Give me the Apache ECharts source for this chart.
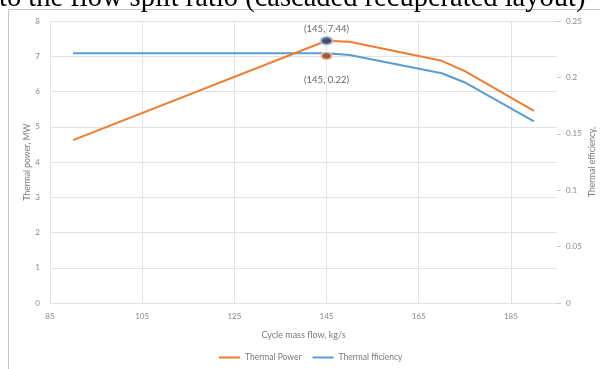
<!DOCTYPE html>
<html>
<head>
<meta charset="utf-8">
<script src="https://cdn.jsdelivr.net/npm/echarts@6/dist/echarts.min.js"></script>
<style>
html,body{margin:0;padding:0;background:#fff;}
#c{width:600px;height:369px;}
</style>
</head>
<body>
<div id="c"></div>
<script>
// Data
const massFlow = [90, 145, 150, 170, 175, 190];
const thermalPower = [4.62, 7.44, 7.41, 6.87, 6.58, 5.45];
const thermalEfficiency = [0.2215, 0.2215, 0.2198, 0.2037, 0.1955, 0.161];
const xTicks = [85, 105, 125, 145, 165, 185];
const highlightPower = [[145, 7.44]];
const highlightEff = [[145, 0.219]];
const powerLabel = '(145, 7.44)';
const effLabel = '(145, 0.22)';
const titleText = 'to the flow split ratio (cascaded recuperated layout)';

const chart = echarts.init(document.getElementById('c'), null, {renderer: 'canvas'});
const labelFont = 'Lato, "Open Sans", sans-serif';
const grey = '#8a8a8a';
const gridCol = '#e3e3e3';

chart.setOption({
  animation: false,
  backgroundColor: '#fff',
  graphic: [
    {type: 'rect', shape: {x: 8.5, y: 9.5, width: 620, height: 400},
     style: {fill: 'none', stroke: '#c4c4c4', lineWidth: 1}, z: -1},
    {type: 'text', left: -1, top: -16,
     style: {text: titleText, font: '28.5px "Liberation Serif", "DejaVu Serif", serif', fill: '#000'}}
  ],
  grid: {left: 50, right: 43, top: 21, bottom: 66, outerBoundsMode: 'none', containLabel: false},
  legend: {
    bottom: 2, left: 214,
    itemWidth: 21, itemHeight: 2, itemGap: 11,
    icon: 'rect',
    textStyle: {fontFamily: labelFont, fontSize: 8.5, color: '#7a7a7a'},
    data: ['Thermal Power', 'Thermal fficiency']
  },
  xAxis: {
    type: 'value', min: 85, max: 195,
    name: 'Cycle mass flow, kg/s', nameLocation: 'middle', nameGap: 28, nameMoveOverlap: false,
    nameTextStyle: {fontFamily: labelFont, fontSize: 9, color: '#7a7a7a'},
    axisLine: {show: true, lineStyle: {color: gridCol}},
    axisTick: {show: false, customValues: xTicks},
    axisLabel: {customValues: xTicks, fontFamily: labelFont, fontSize: 8, color: grey, margin: 9},
    splitLine: {show: true, lineStyle: {color: gridCol}}
  },
  yAxis: [
    {
      type: 'value', min: 0, max: 8, interval: 1,
      name: 'Thermal power, MW', nameLocation: 'middle', nameGap: 18, nameMoveOverlap: false,
      nameTextStyle: {fontFamily: labelFont, fontSize: 8.5, color: '#7a7a7a'},
      axisLine: {show: true, lineStyle: {color: gridCol}},
      axisTick: {show: false},
      axisLabel: {fontFamily: labelFont, fontSize: 8, color: grey, margin: 10},
      splitLine: {show: true, lineStyle: {color: gridCol}}
    },
    {
      type: 'value', min: 0, max: 0.25, interval: 0.05,
      name: 'Thermal efficiency,', nameLocation: 'middle', nameGap: 31, nameMoveOverlap: false,
      nameTextStyle: {fontFamily: labelFont, fontSize: 8.5, color: '#7a7a7a'},
      axisLine: {show: false},
      axisTick: {show: true, length: 4, inside: false, lineStyle: {color: '#c8c8c8'}},
      axisLabel: {fontFamily: labelFont, fontSize: 8, color: grey, margin: 9,
        formatter: v => String(+v.toFixed(2))},
      splitLine: {show: false}
    }
  ],
  series: [
    {
      name: 'Thermal Power', type: 'line', yAxisIndex: 0,
      data: massFlow.map((x, i) => [x, thermalPower[i]]),
      showSymbol: false, symbol: 'none',
      lineStyle: {color: '#ed7d31', width: 2}, itemStyle: {color: '#ed7d31'}, z: 3
    },
    {
      name: 'Thermal fficiency', type: 'line', yAxisIndex: 1,
      data: massFlow.map((x, i) => [x, thermalEfficiency[i]]),
      showSymbol: false, symbol: 'none',
      lineStyle: {color: '#5b9bd5', width: 2}, itemStyle: {color: '#5b9bd5'}, z: 2
    },
    {
      name: 'powerMark', type: 'scatter', yAxisIndex: 0,
      data: highlightPower, symbol: 'circle', symbolSize: [12, 8],
      itemStyle: {color: '#1f3864', borderColor: '#b4c7e7', borderWidth: 2},
      label: {show: true, position: 'top', distance: 2, formatter: powerLabel,
        fontFamily: labelFont, fontSize: 9.5, color: '#404040'}, z: 5
    },
    {
      name: 'effMark', type: 'scatter', yAxisIndex: 1,
      data: highlightEff, symbol: 'circle', symbolSize: [11, 7],
      itemStyle: {color: '#843c0c', borderColor: '#f8cbad', borderWidth: 2},
      label: {show: true, position: 'bottom', distance: 15, formatter: effLabel,
        fontFamily: labelFont, fontSize: 9.5, color: '#404040'}, z: 5
    }
  ]
});
</script>
</body>
</html>
